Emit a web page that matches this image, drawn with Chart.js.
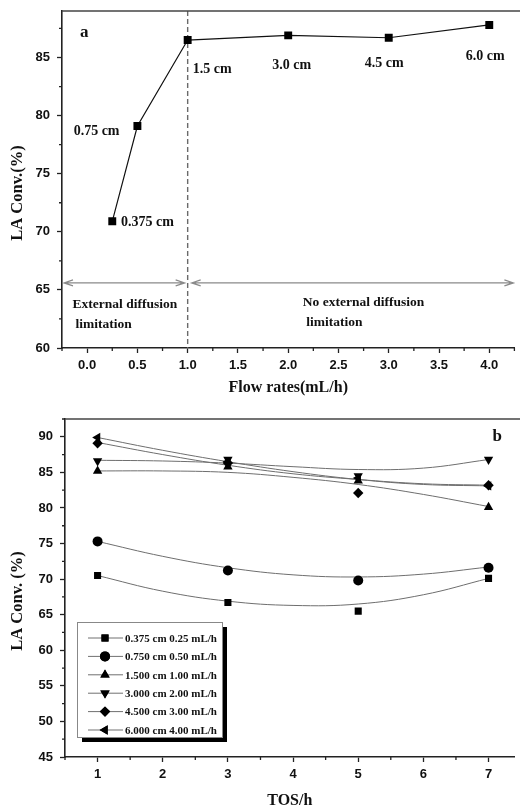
<!DOCTYPE html>
<html>
<head>
<meta charset="utf-8">
<script src="https://cdn.jsdelivr.net/npm/chart.js@4.4.0/dist/chart.umd.min.js"></script>
<style>
    body { margin: 0; background: #fff; overflow: hidden; }
    .panel { position: relative; width: 520px; }
    #panelA { height: 410px; }
    #panelB { height: 398px; }
</style>
</head>
<body>
<div class="panel" id="panelA"><canvas id="chartA"></canvas></div>
<div class="panel" id="panelB"><canvas id="chartB"></canvas></div>
<script>
// ---- Panel a data ----
const flowRates = [0.25, 0.5, 1.0, 2.0, 3.0, 4.0];
const conversionA = [70.9, 79.1, 86.5, 86.9, 86.7, 87.8];
const flowTicks = [0, 0.5, 1, 1.5, 2, 2.5, 3, 3.5, 4];
const flowMinorTicks = [-0.25, 0.25, 0.75, 1.25, 1.75, 2.25, 2.75, 3.25, 3.75, 4.25];
const convTicksA = [60, 65, 70, 75, 80, 85];
const convMinorTicksA = [62.5, 67.5, 72.5, 77.5, 82.5, 87.5];

// ---- Panel b data ----
const tosHours = [1, 3, 5, 7];
const fitHours = [1, 2, 3, 4, 5, 6, 7];
const tosTicks = [1, 2, 3, 4, 5, 6, 7];
const tosMinorTicks = [0.5, 1.5, 2.5, 3.5, 4.5, 5.5, 6.5];
const convTicksB = [45, 50, 55, 60, 65, 70, 75, 80, 85, 90];
const convMinorTicksB = [47.5, 52.5, 57.5, 62.5, 67.5, 72.5, 77.5, 82.5, 87.5, 92.5];
const seriesNames = ['0.375 cm 0.25 mL/h', '0.750 cm 0.50 mL/h', '1.500 cm 1.00 mL/h',
                     '3.000 cm 2.00 mL/h', '4.500 cm 3.00 mL/h', '6.000 cm 4.00 mL/h'];
const conv0375 = [70.5, 66.7, 65.5, 70.1];
const conv0750 = [75.3, 71.2, 69.8, 71.6];
const conv1500 = [85.2, 85.8, 83.8, 80.1];
const conv3000 = [86.6, 86.8, 84.5, 86.8];
const conv4500 = [89.1, 86.3, 82.1, 83.2];
const conv6000 = [89.9, 86.5, 84.2, 83.1];
// fitted curves
const fit0375 = [70.5, 68.3, 66.9, 66.3, 66.5, 67.8, 70.1];
const fit0750 = [75.3, 73.2, 71.6, 70.6, 70.3, 70.7, 71.7];
const fit1500 = [85.2, 85.2, 85.0, 84.3, 83.3, 81.9, 80.2];
const fit3000 = [86.7, 86.6, 86.3, 85.8, 85.4, 85.6, 86.8];
const fit4500 = [89.2, 87.5, 86.0, 84.8, 84.0, 83.4, 83.2];
const fit6000 = [89.9, 88.1, 86.5, 85.1, 84.0, 83.3, 83.1];

const markerValues = [conv0375, conv0750, conv1500, conv3000, conv4500, conv6000];
const fitValues = [fit0375, fit0750, fit1500, fit3000, fit4500, fit6000];
const markerStyles = [
    { style: 'rect', rotation: 0, radius: 5 },
    { style: 'circle', rotation: 0, radius: 5 },
    { style: 'triangle', rotation: 0, radius: 5.4 },
    { style: 'triangle', rotation: 180, radius: 5.4 },
    { style: 'rectRot', rotation: 0, radius: 5.2 },
    { style: 'triangle', rotation: -90, radius: 5.4 }
];

const sansBold = { family: "'Liberation Sans', Arial, sans-serif", weight: 'bold', size: 13 };
const serifBold = { family: "'Liberation Serif', 'Times New Roman', serif", weight: 'bold', size: 16 };
const serifFamily = "'Liberation Serif', 'Times New Roman', serif";

function toPoints(xs, ys) {
    return xs.map((x, i) => ({ x: x, y: ys[i] }));
}

function drawArrow(ctx, x1, x2, y) {
    ctx.beginPath();
    ctx.moveTo(x1, y); ctx.lineTo(x2, y);
    ctx.moveTo(x1 + 9, y - 3); ctx.lineTo(x1, y); ctx.lineTo(x1 + 9, y + 3);
    ctx.moveTo(x2 - 9, y - 3); ctx.lineTo(x2, y); ctx.lineTo(x2 - 9, y + 3);
    ctx.stroke();
}

// Extra drawing: minor ticks, frame top, annotations, arrows, legend box
const panelExtras = {
    id: 'panelExtras',
    beforeDatasetsDraw(chart, args, opts) {
        const { ctx, chartArea, scales: { x, y } } = chart;
        ctx.save();
        if (opts.divider !== undefined) {
            const px = x.getPixelForValue(opts.divider);
            ctx.strokeStyle = '#6a6a6a';
            ctx.lineWidth = 1.4;
            ctx.setLineDash([5, 3]);
            ctx.beginPath();
            ctx.moveTo(px, chartArea.top);
            ctx.lineTo(px, chartArea.bottom);
            ctx.stroke();
            ctx.setLineDash([]);
        }
        (opts.arrows || []).forEach(a => {
            ctx.strokeStyle = '#8a8a8a';
            ctx.lineWidth = 1.2;
            drawArrow(ctx, x.getPixelForValue(a.from), x.getPixelForValue(a.to), y.getPixelForValue(a.y));
        });
        ctx.restore();
    },
    afterDraw(chart, args, opts) {
        const { ctx, chartArea, scales: { x, y } } = chart;
        ctx.save();
        // top frame line
        ctx.strokeStyle = '#444';
        ctx.lineWidth = 1.5;
        ctx.beginPath();
        ctx.moveTo(chartArea.left, chartArea.top);
        ctx.lineTo(chart.width, chartArea.top);
        ctx.stroke();

        // minor ticks
        ctx.strokeStyle = '#222';
        ctx.lineWidth = 1.3;
        ctx.beginPath();
        opts.minorX.forEach(v => {
            const px = x.getPixelForValue(v);
            ctx.moveTo(px, chartArea.bottom);
            ctx.lineTo(px, chartArea.bottom + 3);
        });
        opts.minorY.forEach(v => {
            const py = y.getPixelForValue(v);
            ctx.moveTo(chartArea.left, py);
            ctx.lineTo(chartArea.left - 3, py);
        });
        ctx.stroke();

        // y axis title (placed a little below the axis middle, as in the figure)
        ctx.fillStyle = '#111';
        ctx.save();
        ctx.translate(18, chartArea.top + 182);
        ctx.rotate(-Math.PI / 2);
        ctx.font = 'bold 16.5px ' + serifFamily;
        ctx.textAlign = 'center';
        ctx.textBaseline = 'middle';
        ctx.fillText(opts.yTitle, 0, 0);
        ctx.restore();

        // text annotations
        ctx.textBaseline = 'middle';
        (opts.labels || []).forEach(l => {
            ctx.font = 'bold ' + l.size + 'px ' + serifFamily;
            ctx.textAlign = l.align || 'center';
            ctx.fillText(l.text, x.getPixelForValue(l.x), y.getPixelForValue(l.y));
        });

        // legend box (panel b)
        if (opts.legend) {
            const left = chartArea.left + 12;
            const top = chartArea.top + 203;
            const w = 145, h = 115;
            ctx.fillStyle = '#000';
            ctx.fillRect(left + 5, top + 5, w, h);
            ctx.fillStyle = '#fff';
            ctx.fillRect(left, top, w, h);
            ctx.strokeStyle = '#888';
            ctx.lineWidth = 1;
            ctx.strokeRect(left + 0.5, top + 0.5, w, h);
            seriesNames.forEach((name, i) => {
                const cy = top + 16 + i * 18.4;
                ctx.strokeStyle = '#707070';
                ctx.lineWidth = 1;
                ctx.beginPath();
                ctx.moveTo(left + 11, cy);
                ctx.lineTo(left + 46, cy);
                ctx.stroke();
                const m = markerStyles[i];
                ctx.fillStyle = '#000';
                ctx.strokeStyle = '#000';
                Chart.helpers.drawPoint(ctx, { pointStyle: m.style, rotation: m.rotation, radius: m.radius, borderWidth: 0 }, left + 28, cy);
                ctx.fill();
                ctx.fillStyle = '#111';
                ctx.font = 'bold 11px ' + serifFamily;
                ctx.textAlign = 'left';
                ctx.fillText(name, left + 48, cy + 1);
            });
        }
        ctx.restore();
    }
};

function fixedAxis(size, horizontal) {
    return function(scale) {
        if (horizontal) scale.height = size; else scale.width = size;
        scale.paddingLeft = 0; scale.paddingRight = 0;
        scale.paddingTop = 0; scale.paddingBottom = 0;
    };
}

// ---- Chart a ----
new Chart(document.getElementById('chartA'), {
    type: 'line',
    data: {
        datasets: [{
            data: toPoints(flowRates, conversionA),
            borderColor: '#111',
            borderWidth: 1.2,
            pointStyle: 'rect',
            pointRadius: 5.6,
            pointBackgroundColor: '#000',
            pointBorderWidth: 0,
            tension: 0
        }]
    },
    options: {
        responsive: true,
        maintainAspectRatio: false,
        animation: false,
        layout: { padding: { top: 11, right: 1, left: 0, bottom: 0 } },
        plugins: {
            legend: { display: false },
            tooltip: { enabled: false },
            panelExtras: {
                yTitle: 'LA Conv.(%)',
                minorX: flowMinorTicks,
                minorY: convMinorTicksA,
                divider: 1.0,
                arrows: [{ from: -0.23, to: 0.97, y: 65.6 }, { from: 1.04, to: 4.24, y: 65.6 }],
                labels: [
                    { text: 'a', x: -0.07, y: 87.1, size: 17, align: 'left' },
                    { text: '0.375 cm', x: 0.6, y: 70.8, size: 14 },
                    { text: '0.75 cm', x: 0.094, y: 78.6, size: 14 },
                    { text: '1.5 cm', x: 1.245, y: 84.0, size: 14 },
                    { text: '3.0 cm', x: 2.035, y: 84.3, size: 14 },
                    { text: '4.5 cm', x: 2.955, y: 84.5, size: 14 },
                    { text: '6.0 cm', x: 3.96, y: 85.1, size: 14 },
                    { text: 'External diffusion', x: 0.375, y: 63.7, size: 13.5 },
                    { text: 'limitation', x: 0.163, y: 62.0, size: 13.5 },
                    { text: 'No external diffusion', x: 2.75, y: 63.9, size: 13.5 },
                    { text: 'limitation', x: 2.46, y: 62.2, size: 13.5 }
                ]
            }
        },
        scales: {
            x: {
                type: 'linear', min: -0.25, max: 4.25,
                afterBuildTicks: s => { s.ticks = flowTicks.map(v => ({ value: v })); },
                afterFit: fixedAxis(62, true),
                ticks: { font: sansBold, color: '#111', padding: 5, maxRotation: 0, callback: v => v.toFixed(1) },
                grid: { drawOnChartArea: false, tickLength: 5, tickColor: '#222', tickWidth: 1.3 },
                border: { color: '#222', width: 1.6 },
                title: { display: true, text: 'Flow rates(mL/h)', font: serifBold, color: '#111', padding: { top: 0, bottom: 13 } }
            },
            y: {
                type: 'linear', min: 60, max: 89,
                afterBuildTicks: s => { s.ticks = convTicksA.map(v => ({ value: v })); },
                afterFit: fixedAxis(62, false),
                ticks: { font: sansBold, color: '#111', padding: 7 },
                grid: { drawOnChartArea: false, tickLength: 5, tickColor: '#222', tickWidth: 1.3 },
                border: { color: '#222', width: 1.6 }
            }
        }
    },
    plugins: [panelExtras]
});

// ---- Chart b ----
const fitDatasets = fitValues.map(vals => ({
    data: toPoints(fitHours, vals),
    showLine: true,
    borderColor: '#6e6e6e',
    borderWidth: 1,
    pointRadius: 0,
    tension: 0.4,
    order: 2
}));
const markerDatasets = markerValues.map((vals, i) => ({
    label: seriesNames[i],
    data: toPoints(tosHours, vals),
    showLine: false,
    pointStyle: markerStyles[i].style,
    rotation: markerStyles[i].rotation,
    pointRadius: markerStyles[i].radius,
    pointBackgroundColor: '#000',
    pointBorderColor: '#000',
    pointBorderWidth: 0,
    order: 1
}));

new Chart(document.getElementById('chartB'), {
    type: 'scatter',
    data: { datasets: fitDatasets.concat(markerDatasets) },
    options: {
        responsive: true,
        maintainAspectRatio: false,
        animation: false,
        layout: { padding: { top: 9, right: 0, left: 0, bottom: 0 } },
        plugins: {
            legend: { display: false },
            tooltip: { enabled: false },
            panelExtras: {
                yTitle: 'LA Conv. (%)',
                minorX: tosMinorTicks,
                minorY: convMinorTicksB,
                legend: true,
                labels: [{ text: 'b', x: 7.06, y: 90.0, size: 17, align: 'left' }]
            }
        },
        scales: {
            x: {
                type: 'linear', min: 0.5, max: 7.4,
                afterBuildTicks: s => { s.ticks = tosTicks.map(v => ({ value: v })); },
                afterFit: fixedAxis(51, true),
                ticks: { font: sansBold, color: '#111', padding: 5, maxRotation: 0 },
                grid: { drawOnChartArea: false, tickLength: 5, tickColor: '#222', tickWidth: 1.3 },
                border: { color: '#222', width: 1.6 },
                title: { display: true, text: 'TOS/h', font: serifBold, color: '#111', padding: { top: 0, bottom: -2 } }
            },
            y: {
                type: 'linear', min: 45, max: 92.5,
                afterBuildTicks: s => { s.ticks = convTicksB.map(v => ({ value: v })); },
                afterFit: fixedAxis(65, false),
                ticks: { font: sansBold, color: '#111', padding: 7 },
                grid: { drawOnChartArea: false, tickLength: 5, tickColor: '#222', tickWidth: 1.3 },
                border: { color: '#222', width: 1.6 }
            }
        }
    },
    plugins: [panelExtras]
});
</script>
</body>
</html>
